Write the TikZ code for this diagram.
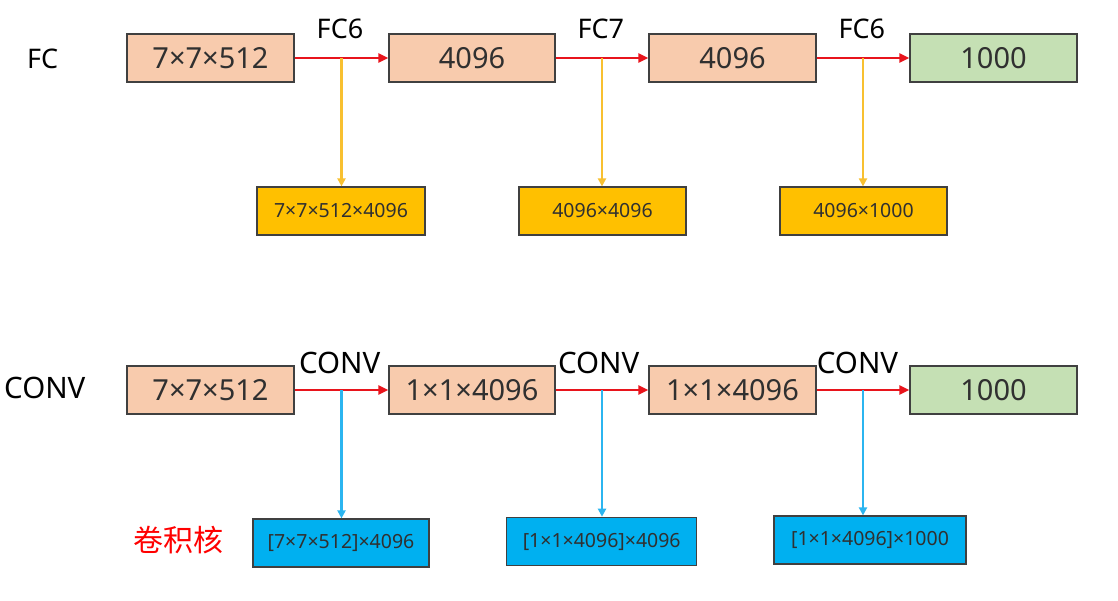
\documentclass[tikz,border=0pt]{standalone}
\usepackage{fontspec}
\setmainfont{Noto Sans}
\newfontfamily\cjkfont{Noto Sans CJK SC}
\usetikzlibrary{arrows.meta}
\definecolor{peach}{HTML}{F8CBAD}
\definecolor{lgreen}{HTML}{C5E0B4}
\definecolor{gold}{HTML}{FFC000}
\definecolor{sky}{HTML}{00B0F0}
\definecolor{arrred}{HTML}{E8141C}
\definecolor{lineyel}{HTML}{F8C030}
\definecolor{lineblue}{HTML}{2BB5F0}
\definecolor{edge}{HTML}{404040}
\definecolor{txt}{HTML}{303030}
\tikzset{
  x=1pt, y=-1pt,
  bigbox/.style={draw=edge, line width=1.2pt, minimum height=48pt, inner sep=0pt,
    text=txt, font=\fontsize{29}{34}\selectfont},
  pbox/.style={bigbox, fill=peach},
  gbox/.style={bigbox, fill=lgreen},
  smallbox/.style={draw=edge, line width=1.2pt, minimum height=48pt, inner sep=0pt,
    text=txt, font=\fontsize{19.5}{24}\selectfont},
  ybox/.style={smallbox, fill=gold},
  bbox/.style={smallbox, fill=sky},
  flabel/.style={anchor=base, inner sep=0pt, text=black, font=\fontsize{27}{32}\selectfont},
  clabel/.style={anchor=base, inner sep=0pt, text=black, font=\fontsize{29.5}{35}\selectfont},
  flow/.style={draw=arrred, line width=2.6pt, -{Triangle[length=10pt,width=9pt]}},
  ydrop/.style={draw=lineyel, line width=2.2pt, -{Triangle[length=8pt,width=8pt]}},
  bdrop/.style={draw=lineblue, line width=2.2pt, -{Triangle[length=8pt,width=8pt]}},
}
\begin{document}
\begin{tikzpicture}
\useasboundingbox (0,0) rectangle (1118,600);
% ---------- FC row ----------
\node[pbox, minimum width=167pt] (b1) at (210.5,58) {7×7×512};
\node[pbox, minimum width=166pt] (b2) at (472,58) {4096};
\node[pbox, minimum width=167pt] (b3) at (732.5,58) {4096};
\node[gbox, minimum width=167pt] (b4) at (993.5,58) {1000};
\node[ybox, minimum width=168pt] (y1) at (341,211) {7×7×512×4096};
\node[ybox, minimum width=167pt] (y2) at (602.5,211) {4096×4096};
\node[ybox, minimum width=167pt] (y3) at (863.5,211) {4096×1000};
\node[flabel, anchor=base west] (lfc) at (27,68.3) {FC};
\node[flabel] (l1) at (340,38.3) {FC6};
\node[flabel] (l2) at (600.8,38.3) {FC7};
\node[flabel] (l3) at (861.8,38.3) {FC6};
\draw[flow] (b1.east) -- (b2.west) coordinate[pos=0.5] (m1);
\draw[flow] (b2.east) -- (b3.west) coordinate[pos=0.5] (m2);
\draw[flow] (b3.east) -- (b4.west) coordinate[pos=0.5] (m3);
\draw[ydrop] (m1) -- (m1 |- y1.north);
\draw[ydrop] (m2) -- (m2 |- y2.north);
\draw[ydrop] (m3) -- (m3 |- y3.north);
% ---------- CONV row ----------
\node[pbox, minimum width=167pt] (d1) at (210.5,390) {7×7×512};
\node[pbox, minimum width=166pt] (d2) at (472,390) {1×1×4096};
\node[pbox, minimum width=167pt] (d3) at (732.5,390) {1×1×4096};
\node[gbox, minimum width=167pt] (d4) at (993.5,390) {1000};
\node[bbox, minimum width=176pt] (c1) at (341,543) {[7×7×512]×4096};
\node[bbox, minimum width=190pt, minimum height=48.4pt] (c2) at (601.7,541.5) {[1×1×4096]×4096};
\node[bbox, minimum width=192pt] (c3) at (870,540) {[1×1×4096]×1000};
\node[clabel, anchor=base west] (lconv) at (4,398.3) {CONV};
\node[clabel] (k1) at (339.7,373.3) {CONV};
\node[clabel] (k2) at (598.6,373.3) {CONV};
\node[clabel] (k3) at (857.5,373.3) {CONV};
\node[anchor=west, inner sep=0pt, text=red, font=\cjkfont\fontsize{30}{34}\selectfont] (kern) at (133,540) {卷积核};
\draw[flow] (d1.east) -- (d2.west) coordinate[pos=0.5] (n1);
\draw[flow] (d2.east) -- (d3.west) coordinate[pos=0.5] (n2);
\draw[flow] (d3.east) -- (d4.west) coordinate[pos=0.5] (n3);
\draw[bdrop] (n1) -- (n1 |- c1.north);
\draw[bdrop] (n2) -- (n2 |- c2.north);
\draw[bdrop] (n3) -- (n3 |- c3.north);
\end{tikzpicture}
\end{document}
